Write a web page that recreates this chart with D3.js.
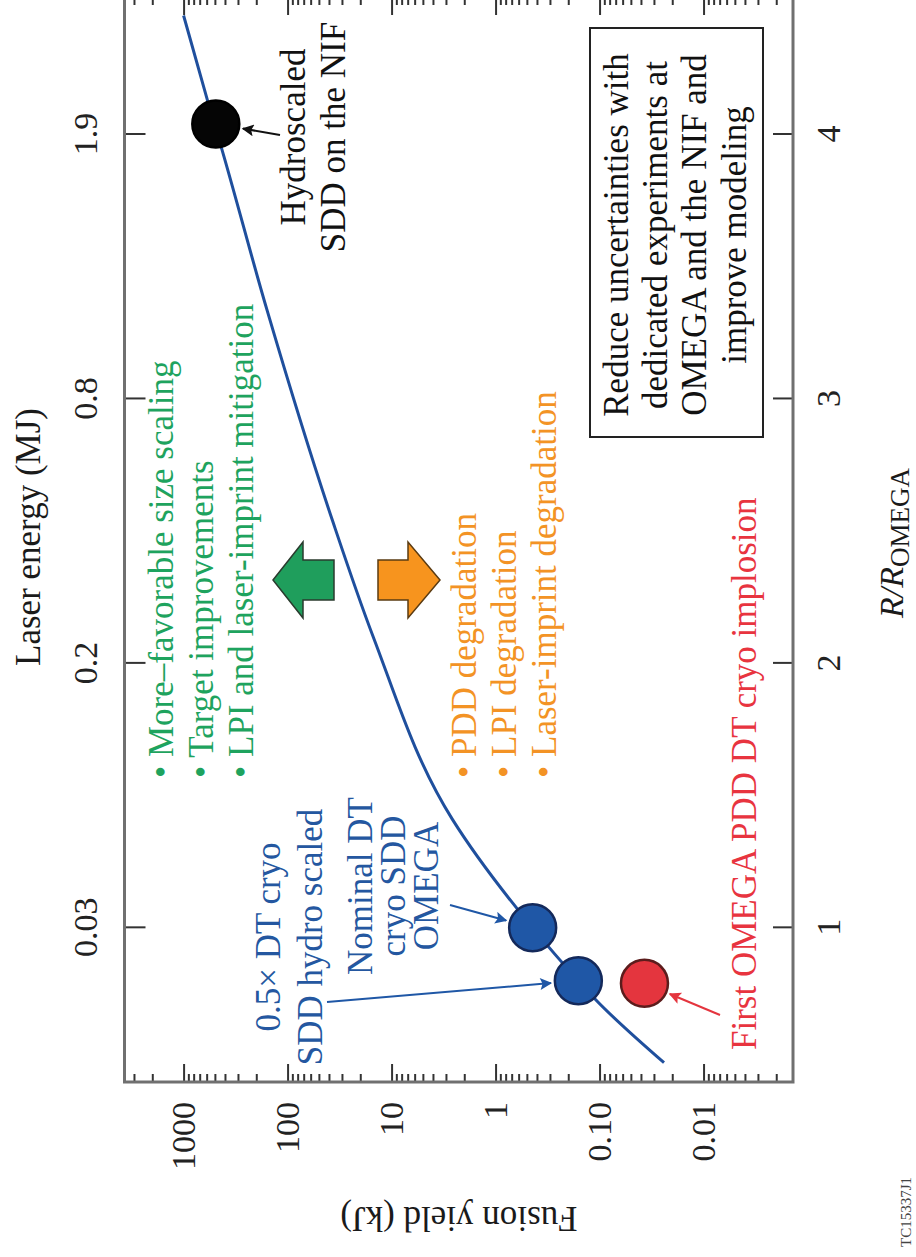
<!DOCTYPE html>
<html>
<head>
<meta charset="utf-8">
<script src="https://cdn.jsdelivr.net/npm/d3@7"></script>
<style>
  body { margin: 0; background: #fff; }
  svg { display: block; font-family: "Liberation Serif", "Times New Roman", serif; }
</style>
</head>
<body>
<script>
// model curve: fusion yield (kJ) vs target size R/R_OMEGA
const curveR = [0.49, 0.73, 0.80, 1.00, 1.41, 2.10, 2.54, 3.33, 3.96, 4.13, 4.45];
const curveYield = [0.024, 0.11, 0.16, 0.44, 2.6, 15, 37, 156, 440, 590, 1000];

// the four marked designs / shots
const pointNames = ["Hydroscaled SDD on the NIF", "Nominal DT cryo SDD OMEGA", "0.5× DT cryo SDD hydro scaled", "First OMEGA PDD DT cryo implosion"];
const pointR = [4.04, 1.0, 0.80, 0.79];
const pointYield = [490, 0.44, 0.16, 0.037];

const rTicks = [1, 2, 3, 4];
const energyTickLabels = ["0.03", "0.2", "0.8", "1.9"];
const yieldTicks = [1000, 100, 10, 1, 0.1, 0.01];
const yieldTickLabels = ["1000", "100", "10", "1", "0.10", "0.01"];

const pointStyle = [
  { fill: "#050505", stroke: "#000" },
  { fill: "#1f57a6", stroke: "#14295a" },
  { fill: "#1f57a6", stroke: "#14295a" },
  { fill: "#e4353e", stroke: "#5c1c1c" }
];

// the figure is drawn upright, then turned a quarter turn counter-clockwise
const W = 1257, H = 916;
const frame = { left: 175, right: 1260, top: 124.5, bottom: 793 };

const x = d3.scaleLinear().domain([0.417, 4.52]).range([frame.left, frame.right]);
const y = d3.scaleLog().domain([0.00138, 3700]).range([frame.bottom, frame.top]);

const minorTicks = [];
for (let e = -3; e <= 3; e++) {
  for (let m = 2; m <= 9; m++) {
    const v = +(m * Math.pow(10, e)).toPrecision(3);
    if (v > y.domain()[0] && v < y.domain()[1]) minorTicks.push(v);
  }
}

const svg = d3.select("body").append("svg")
  .attr("width", H)
  .attr("height", W);

const g = svg.append("g")
  .attr("transform", "translate(0," + W + ") rotate(-90)");

const defs = svg.append("defs");
function marker(id, color) {
  defs.append("marker")
      .attr("id", id)
      .attr("viewBox", "0 0 10 10")
      .attr("refX", 9)
      .attr("refY", 5)
      .attr("markerWidth", 7)
      .attr("markerHeight", 6)
      .attr("markerUnits", "strokeWidth")
      .attr("orient", "auto")
    .append("path")
      .attr("d", "M0,0L10,5L0,10L2,5Z")
      .attr("fill", color);
}
marker("head-black", "#111");
marker("head-blue", "#1f57a6");
marker("head-red", "#e4353e");

function styleAxis(sel, size) {
  sel.select(".domain").remove();
  sel.selectAll(".tick line").attr("stroke", "#333").attr("stroke-width", 2);
  sel.selectAll(".tick text")
    .attr("fill", "#222")
    .style("font-size", size + "px")
    .style("font-family", "'Liberation Serif', serif");
}

// yield axis (left when upright) with log minor ticks, mirrored on the far side
g.append("g")
    .attr("transform", "translate(" + frame.left + ",0)")
    .call(d3.axisLeft(y).tickValues(yieldTicks)
      .tickFormat((d, i) => yieldTickLabels[i])
      .tickSizeInner(-18).tickSizeOuter(0).tickPadding(20))
    .call(styleAxis, 34);

g.append("g")
    .attr("transform", "translate(" + frame.left + ",0)")
    .call(d3.axisLeft(y).tickValues(minorTicks).tickFormat("")
      .tickSizeInner(-8).tickSizeOuter(0))
    .call(styleAxis, 34);

g.append("g")
    .attr("transform", "translate(" + frame.right + ",0)")
    .call(d3.axisRight(y).tickValues(yieldTicks).tickFormat("")
      .tickSizeInner(-18).tickSizeOuter(0))
    .call(styleAxis, 34);

g.append("g")
    .attr("transform", "translate(" + frame.right + ",0)")
    .call(d3.axisRight(y).tickValues(minorTicks).tickFormat("")
      .tickSizeInner(-8).tickSizeOuter(0))
    .call(styleAxis, 34);

// R/R_OMEGA on the bottom, laser energy on top
g.append("g")
    .attr("transform", "translate(0," + frame.bottom + ")")
    .call(d3.axisBottom(x).tickValues(rTicks).tickFormat(d3.format("d"))
      .tickSizeInner(-20).tickSizeOuter(0).tickPadding(23))
    .call(styleAxis, 34);

g.append("g")
    .attr("transform", "translate(0," + frame.top + ")")
    .call(d3.axisTop(x).tickValues(rTicks)
      .tickFormat((d, i) => energyTickLabels[i])
      .tickSizeInner(-21).tickSizeOuter(0).tickPadding(27.5))
    .call(styleAxis, 34);

g.append("rect")
    .attr("x", frame.left)
    .attr("y", frame.top)
    .attr("width", frame.right - frame.left)
    .attr("height", frame.bottom - frame.top)
    .attr("fill", "none")
    .attr("stroke", "#707070")
    .attr("stroke-width", 3);

// axis titles
g.append("text")
    .attr("x", 720).attr("y", 40)
    .attr("text-anchor", "middle")
    .style("font-size", "35px")
    .attr("fill", "#1a1a1a")
    .text("Laser energy (MJ)");

g.append("text")
    .attr("transform", "translate(50,459) rotate(-90)")
    .attr("text-anchor", "middle")
    .style("font-size", "35px")
    .attr("fill", "#1a1a1a")
    .text("Fusion yield (kJ)");

const rTitle = g.append("text")
    .attr("x", 714).attr("y", 903)
    .attr("text-anchor", "middle")
    .attr("fill", "#1a1a1a")
    .style("font-size", "34px");
rTitle.append("tspan").style("font-style", "italic").text("R/R");
rTitle.append("tspan").attr("dy", 6).style("font-size", "27px").text("OMEGA");

g.append("text")
    .attr("x", 10).attr("y", 911)
    .style("font-size", "15px")
    .attr("fill", "#444")
    .text("TC15337J1");

// reduce-uncertainties box
g.append("rect")
    .attr("x", 820).attr("y", 590)
    .attr("width", 409).attr("height", 173)
    .attr("fill", "#fff")
    .attr("stroke", "#222")
    .attr("stroke-width", 2);

// block arrows: green points to higher yield, orange to lower
function blockArrow(cx, tip, base, end, headHalf, bodyHalf) {
  return d3.line()([
    [cx, tip], [cx + headHalf, base], [cx + bodyHalf, base], [cx + bodyHalf, end],
    [cx - bodyHalf, end], [cx - bodyHalf, base], [cx - headHalf, base]
  ]) + "Z";
}
g.append("path")
    .attr("d", blockArrow(677, 273, 303, 334, 38, 20))
    .attr("fill", "#1f9e5c")
    .attr("stroke", "#2a3b2e")
    .attr("stroke-width", 1.5);
g.append("path")
    .attr("d", blockArrow(677, 440, 408, 378, 38, 20))
    .attr("fill", "#f7941e")
    .attr("stroke", "#5a3b12")
    .attr("stroke-width", 1.5);

// model curve
const curve = curveR.map((r, i) => ({ r: r, y: curveYield[i] }));
g.append("path")
    .datum(curve)
    .attr("fill", "none")
    .attr("stroke", "#1f4f9d")
    .attr("stroke-width", 3)
    .attr("d", d3.line().x(d => x(d.r)).y(d => y(d.y)).curve(d3.curveMonotoneX));

// points
const radius = 23.5;
g.selectAll("circle.pt")
  .data(pointNames)
  .enter().append("circle")
    .attr("class", "pt")
    .attr("cx", (d, i) => x(pointR[i]))
    .attr("cy", (d, i) => y(pointYield[i]))
    .attr("r", radius)
    .attr("fill", (d, i) => pointStyle[i].fill)
    .attr("stroke", (d, i) => pointStyle[i].stroke)
    .attr("stroke-width", 2.5);

// pointer arrows from the labels to the points
const pointers = [
  { from: [1122, 280], point: 0, marker: "head-black", color: "#111" },
  { from: [352, 450], point: 1, marker: "head-blue", color: "#1f57a6" },
  { from: [255, 327], point: 2, marker: "head-blue", color: "#1f57a6" },
  { from: [242, 720], point: 3, marker: "head-red", color: "#e4353e" }
];
pointers.forEach(p => {
  const cx = x(pointR[p.point]), cy = y(pointYield[p.point]);
  const dx = p.from[0] - cx, dy = p.from[1] - cy;
  const len = Math.sqrt(dx * dx + dy * dy);
  const gap = radius + 4;
  g.append("line")
      .attr("x1", p.from[0]).attr("y1", p.from[1])
      .attr("x2", cx + dx / len * gap).attr("y2", cy + dy / len * gap)
      .attr("stroke", p.color)
      .attr("stroke-width", 2)
      .attr("marker-end", "url(#" + p.marker + ")");
});

// annotation text blocks
const notes = [
  { lines: ["Hydroscaled", "SDD on the NIF"], x: 1120, ys: [305, 345], anchor: "middle", color: "#111" },
  { lines: ["Nominal DT", "cryo SDD", "OMEGA"], x: 371, ys: [372, 405, 438], anchor: "middle", color: "#2457a0" },
  { lines: ["0.5× DT cryo", "SDD hydro scaled"], x: 320, ys: [280, 322], anchor: "middle", color: "#2457a0" },
  { lines: ["• More–favorable size scaling", "• Target improvements", "• LPI and laser-imprint mitigation"], x: 479, ys: [173, 213, 253], anchor: "start", color: "#1ea35e" },
  { lines: ["• PDD degradation", "• LPI degradation", "• Laser-imprint degradation"], x: 479, ys: [476, 516, 556], anchor: "start", color: "#f39325" },
  { lines: ["First OMEGA PDD DT cryo implosion"], x: 207, ys: [756], anchor: "start", color: "#e8343f" },
  { lines: ["Reduce uncertainties with", "dedicated experiments at", "OMEGA and the NIF and", "improve modeling"], x: 1022, ys: [628, 667, 706, 746], anchor: "middle", color: "#111" }
];

notes.forEach(n => {
  g.append("g")
    .selectAll("text")
    .data(n.lines)
    .enter().append("text")
      .attr("x", n.x)
      .attr("y", (d, i) => n.ys[i])
      .attr("text-anchor", n.anchor)
      .attr("fill", n.color)
      .style("font-size", "35px")
      .text(d => d);
});
</script>
</body>
</html>
